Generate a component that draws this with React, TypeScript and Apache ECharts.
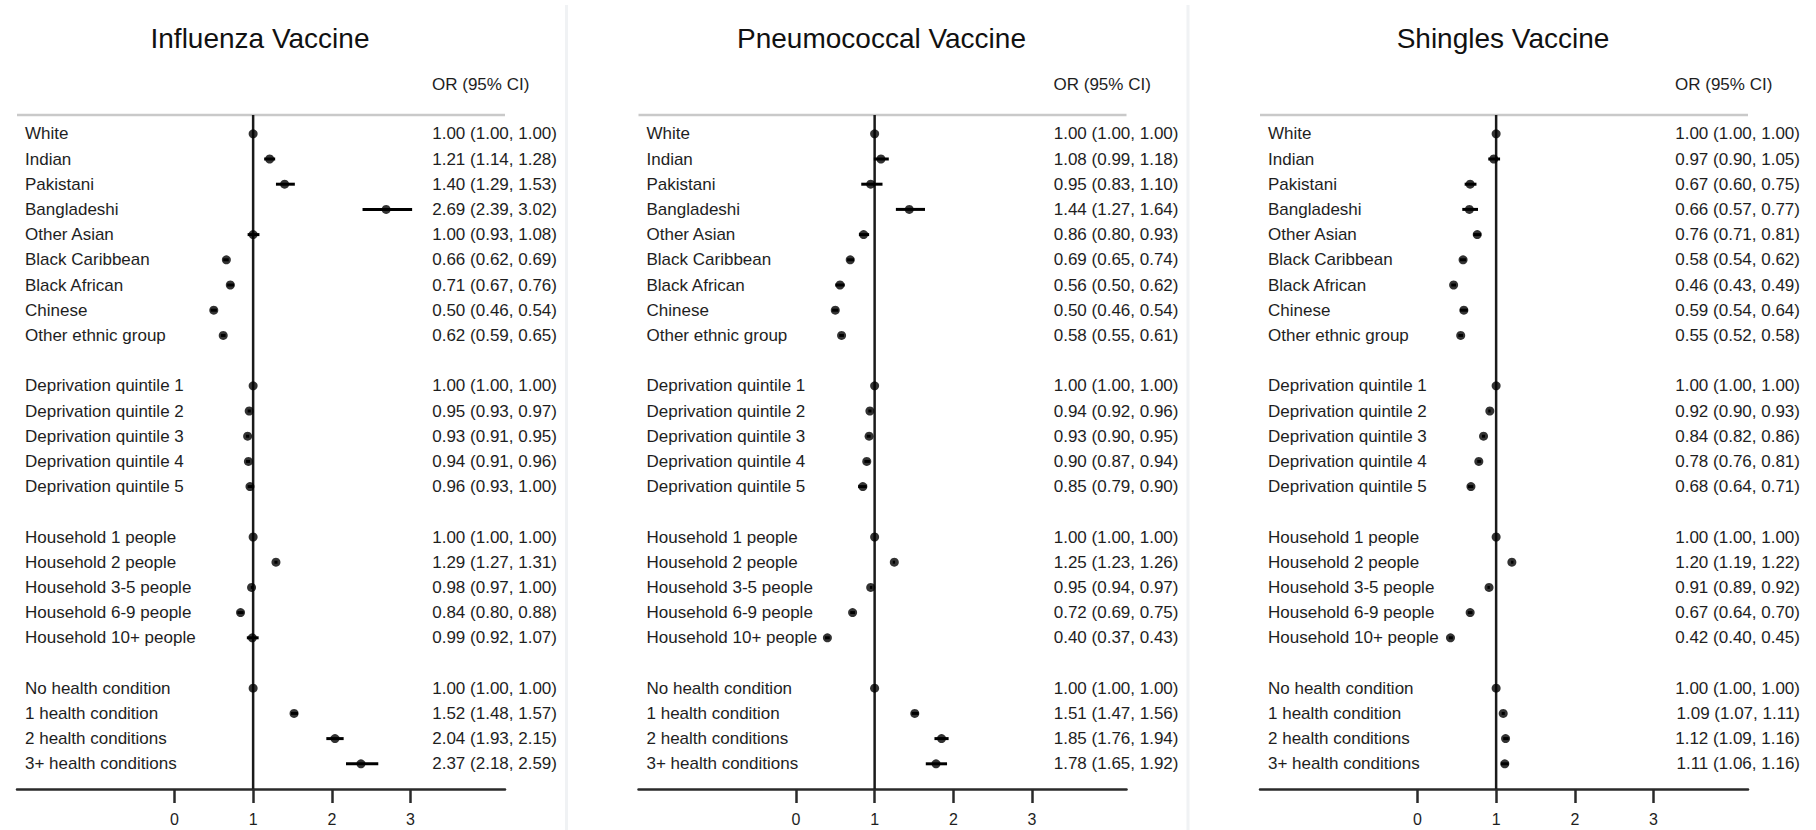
import React, { useEffect, useRef } from "react";
import * as echarts from "echarts";

const TITLES = ["Influenza Vaccine", "Pneumococcal Vaccine", "Shingles Vaccine"];

// Row labels (empty string = spacer row)
const ROW_LABELS = [
  "White", "Indian", "Pakistani", "Bangladeshi", "Other Asian", "Black Caribbean",
  "Black African", "Chinese", "Other ethnic group", "",
  "Deprivation quintile 1", "Deprivation quintile 2", "Deprivation quintile 3",
  "Deprivation quintile 4", "Deprivation quintile 5", "",
  "Household 1 people", "Household 2 people", "Household 3-5 people",
  "Household 6-9 people", "Household 10+ people", "",
  "No health condition", "1 health condition", "2 health conditions", "3+ health conditions",
];

// Influenza: OR, lower, upper
const FLU_OR = [1.0, 1.21, 1.4, 2.69, 1.0, 0.66, 0.71, 0.5, 0.62, 1.0, 0.95, 0.93, 0.94, 0.96, 1.0, 1.29, 0.98, 0.84, 0.99, 1.0, 1.52, 2.04, 2.37];
const FLU_LO = [1.0, 1.14, 1.29, 2.39, 0.93, 0.62, 0.67, 0.46, 0.59, 1.0, 0.93, 0.91, 0.91, 0.93, 1.0, 1.27, 0.97, 0.8, 0.92, 1.0, 1.48, 1.93, 2.18];
const FLU_HI = [1.0, 1.28, 1.53, 3.02, 1.08, 0.69, 0.76, 0.54, 0.65, 1.0, 0.97, 0.95, 0.96, 1.0, 1.0, 1.31, 1.0, 0.88, 1.07, 1.0, 1.57, 2.15, 2.59];

// Pneumococcal
const PNEU_OR = [1.0, 1.08, 0.95, 1.44, 0.86, 0.69, 0.56, 0.5, 0.58, 1.0, 0.94, 0.93, 0.9, 0.85, 1.0, 1.25, 0.95, 0.72, 0.4, 1.0, 1.51, 1.85, 1.78];
const PNEU_LO = [1.0, 0.99, 0.83, 1.27, 0.8, 0.65, 0.5, 0.46, 0.55, 1.0, 0.92, 0.9, 0.87, 0.79, 1.0, 1.23, 0.94, 0.69, 0.37, 1.0, 1.47, 1.76, 1.65];
const PNEU_HI = [1.0, 1.18, 1.1, 1.64, 0.93, 0.74, 0.62, 0.54, 0.61, 1.0, 0.96, 0.95, 0.94, 0.9, 1.0, 1.26, 0.97, 0.75, 0.43, 1.0, 1.56, 1.94, 1.92];

// Shingles
const SHIN_OR = [1.0, 0.97, 0.67, 0.66, 0.76, 0.58, 0.46, 0.59, 0.55, 1.0, 0.92, 0.84, 0.78, 0.68, 1.0, 1.2, 0.91, 0.67, 0.42, 1.0, 1.09, 1.12, 1.11];
const SHIN_LO = [1.0, 0.9, 0.6, 0.57, 0.71, 0.54, 0.43, 0.54, 0.52, 1.0, 0.9, 0.82, 0.76, 0.64, 1.0, 1.19, 0.89, 0.64, 0.4, 1.0, 1.07, 1.09, 1.06];
const SHIN_HI = [1.0, 1.05, 0.75, 0.77, 0.81, 0.62, 0.49, 0.64, 0.58, 1.0, 0.93, 0.86, 0.81, 0.71, 1.0, 1.22, 0.92, 0.7, 0.45, 1.0, 1.11, 1.16, 1.16];

const X_TICKS = [0, 1, 2, 3];
const X_MIN = -2;
const X_MAX = 4.2;
const REF = 1;
const Y_MIN = -1;
const Y_MAX = 26;
const TOP_RULE = -0.75;

const FONT = "'Liberation Sans', Arial, sans-serif";
const TEXT = "#1e1e1e";

const PANELS = [
  { or: FLU_OR, lo: FLU_LO, hi: FLU_HI },
  { or: PNEU_OR, lo: PNEU_LO, hi: PNEU_HI },
  { or: SHIN_OR, lo: SHIN_LO, hi: SHIN_HI },
];

export default function App() {
  const ref = useRef<HTMLDivElement>(null);
  useEffect(() => {
    if (!ref.current) return;
    const chart = echarts.init(ref.current, undefined, { renderer: "svg" });

    const dataRows: number[] = [];
    ROW_LABELS.forEach((l, i) => { if (l) dataRows.push(i); });

    const PANEL_DX = 621.5;
    const GRID_LEFT = 17;
    const GRID_W = 488;
    const GRID_TOP = 108.6;
    const GRID_H = 680.4;

    const grids: any[] = [];
    const xAxes: any[] = [];
    const yAxes: any[] = [];
    const series: any[] = [];
    const graphics: any[] = [];

    PANELS.forEach((p, k) => {
      const dx = k * PANEL_DX;
      grids.push({ left: GRID_LEFT + dx, top: GRID_TOP, width: GRID_W, height: GRID_H });

      const rightLabels: string[] = ROW_LABELS.map(() => "");
      dataRows.forEach((r, j) => {
        rightLabels[r] = `${p.or[j].toFixed(2)} (${p.lo[j].toFixed(2)}, ${p.hi[j].toFixed(2)})`;
      });

      xAxes.push({
        type: "value", gridIndex: k, min: X_MIN, max: X_MAX, interval: 1,
        position: "bottom",
        splitLine: { show: false },
        axisLine: { show: true, onZero: false, lineStyle: { color: "#2a2a2a", width: 2.5 } },
        axisTick: { show: true, length: 14, customValues: X_TICKS, lineStyle: { color: "#2a2a2a", width: 2.5 } },
        axisLabel: {
          customValues: X_TICKS, margin: 22, fontSize: 16, color: TEXT, fontFamily: FONT,
          formatter: (v: number) => (X_TICKS.includes(v) ? String(v) : ""),
        },
      });

      yAxes.push({
        type: "value", gridIndex: k, min: Y_MIN, max: Y_MAX, interval: 1, inverse: true,
        position: "left",
        splitLine: { show: false }, axisLine: { show: false, onZero: false }, axisTick: { show: false },
        axisLabel: {
          inside: true, margin: 8, align: "left", fontSize: 17, color: TEXT, fontFamily: FONT,
          formatter: (v: number) => ROW_LABELS[v] ?? "",
        },
      });
      yAxes.push({
        type: "value", gridIndex: k, min: Y_MIN, max: Y_MAX, interval: 1, inverse: true,
        position: "right",
        splitLine: { show: false }, axisLine: { show: false, onZero: false }, axisTick: { show: false },
        axisLabel: {
          margin: 52, align: "right", fontSize: 17, color: TEXT, fontFamily: FONT,
          formatter: (v: number) => rightLabels[v] ?? "",
        },
      });

      const yIdx = k * 2;
      // top rule
      series.push({
        type: "line", xAxisIndex: k, yAxisIndex: yIdx, symbol: "none", silent: true, z: 1,
        data: [[X_MIN, TOP_RULE], [X_MAX, TOP_RULE]],
        lineStyle: { color: "#c9c9c9", width: 2.5 },
      });
      // reference line at OR = 1
      series.push({
        type: "line", xAxisIndex: k, yAxisIndex: yIdx, symbol: "none", silent: true, z: 2,
        data: [[REF, TOP_RULE], [REF, Y_MAX]],
        lineStyle: { color: "#1a1a1a", width: 2.5 },
      });
      // confidence intervals
      series.push({
        type: "custom", xAxisIndex: k, yAxisIndex: yIdx, z: 3,
        data: dataRows.map((r, j) => [r, p.lo[j], p.hi[j]]),
        encode: { x: [1, 2], y: 0 },
        renderItem: (params: any, api: any) => {
          const a = api.coord([api.value(1), api.value(0)]);
          const b = api.coord([api.value(2), api.value(0)]);
          return {
            type: "line",
            shape: { x1: a[0], y1: a[1], x2: b[0], y2: b[1] },
            style: { stroke: "#000", lineWidth: 3 },
          };
        },
      });
      // point estimates
      series.push({
        type: "scatter", xAxisIndex: k, yAxisIndex: yIdx, z: 4,
        symbol: "circle", symbolSize: 9,
        itemStyle: { color: "#000" },
        data: dataRows.map((r, j) => [p.or[j], r]),
      });

      graphics.push({
        type: "text", x: 260 + dx, y: 38.5, z: 10,
        style: { text: TITLES[k], fontSize: 28, fontFamily: FONT, fill: "#111", textAlign: "center", textVerticalAlign: "middle" },
      });
      graphics.push({
        type: "text", x: 432 + dx, y: 84, z: 10,
        style: { text: "OR (95% CI)", fontSize: 17, fontFamily: FONT, fill: TEXT, textAlign: "left", textVerticalAlign: "middle" },
      });
    });

    // panel separators
    [565, 565 + 621.5].forEach((x) => {
      graphics.push({ type: "rect", shape: { x, y: 5, width: 3, height: 830 }, style: { fill: "#f0f2f4" }, z: 0 });
    });

    chart.setOption({
      animation: false,
      backgroundColor: "#fff",
      grid: grids,
      xAxis: xAxes,
      yAxis: yAxes,
      series,
      graphic: graphics,
    });
    return () => chart.dispose();
  }, []);

  return <div ref={ref} style={{ position: "absolute", left: 0, top: 0, width: 1816, height: 830 }} />;
}
